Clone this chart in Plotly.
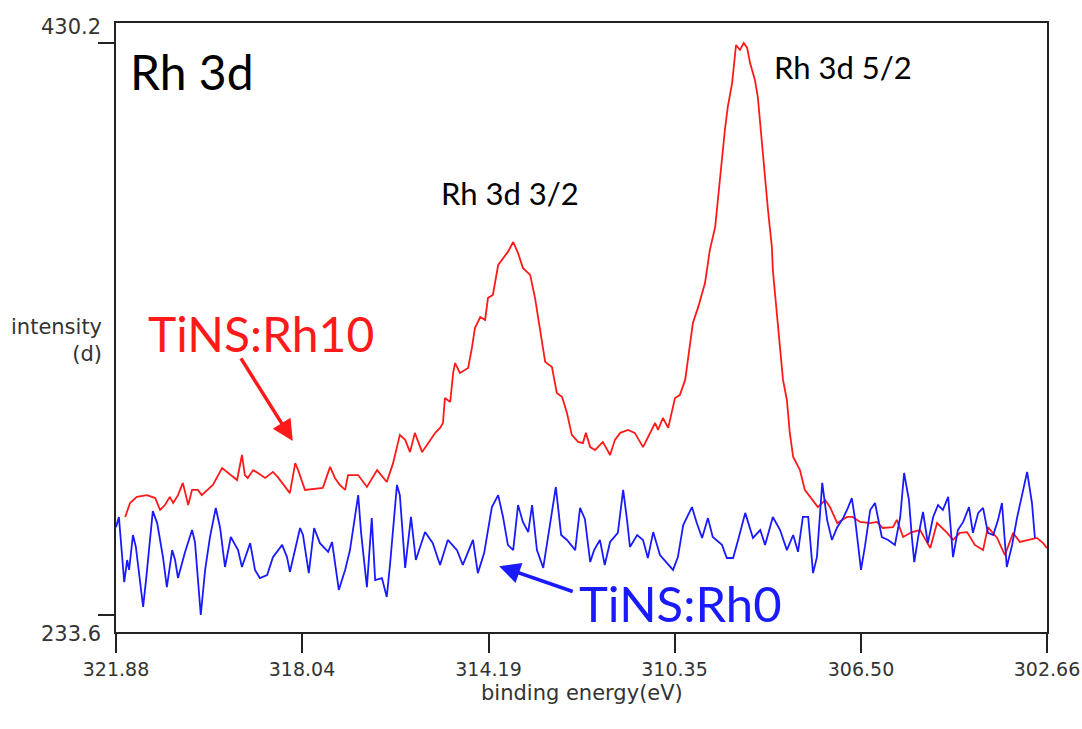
import plotly.graph_objects as go

# Rh 3d XPS spectra: binding energy (eV) vs intensity
rh10_energy = [
    321.69, 321.59, 321.45, 321.24, 321.07, 320.97, 320.87, 320.77, 320.70, 320.60,
    320.50, 320.39, 320.31, 320.19, 320.11, 319.98, 319.88, 319.69, 319.57, 319.38,
    319.28, 319.22, 319.16, 319.05, 318.95, 318.80, 318.64, 318.54, 318.29, 318.18,
    318.12, 317.98, 317.61, 317.46, 317.36, 317.26, 317.15, 317.09, 316.88, 316.70,
    316.49, 316.29, 316.16, 316.02, 315.91, 315.81, 315.71, 315.56, 315.46, 315.29,
    315.19, 315.13, 315.09, 314.98, 314.92, 314.88, 314.78, 314.61, 314.53, 314.47,
    314.36, 314.26, 314.20, 314.10, 313.99, 313.89, 313.79, 313.68, 313.58, 313.48,
    313.33, 313.23, 313.13, 313.02, 312.88, 312.78, 312.67, 312.57, 312.47, 312.34,
    312.24, 312.18, 312.09, 311.99, 311.83, 311.68, 311.58, 311.47, 311.31, 311.17,
    311.00, 310.86, 310.75, 310.69, 310.59, 310.48, 310.40, 310.34, 310.24, 310.13,
    309.97, 309.86, 309.72, 309.62, 309.51, 309.45, 309.37, 309.31, 309.25, 309.16,
    309.08, 309.00, 308.92, 308.85, 308.79, 308.69, 308.63, 308.54, 308.48, 308.42,
    308.34, 308.32, 308.23, 308.11, 308.03, 307.97, 307.90, 307.76, 307.66, 307.51,
    307.39, 307.24, 307.14, 306.99, 306.79, 306.67, 306.52, 306.31, 306.17, 306.05,
    305.84, 305.76, 305.63, 305.45, 305.28, 305.07, 304.93, 304.72, 304.60, 304.46,
    304.31, 304.15, 303.98, 303.88, 303.69, 303.53, 303.36, 303.22, 303.01, 302.87,
    302.74, 302.66,
]
rh10_intensity = [
    267.3, 272.1, 274.2, 274.8, 273.8, 269.7, 271.4, 274.2, 272.1, 274.8,
    279.0, 271.4, 276.6, 276.6, 274.8, 276.6, 278.3, 284.1, 282.4, 280.0,
    288.6, 281.7, 280.7, 283.4, 282.4, 280.7, 282.8, 281.0, 275.5, 285.8,
    283.4, 276.6, 277.3, 284.5, 280.7, 278.3, 276.6, 281.7, 281.7, 277.6,
    283.4, 279.3, 285.8, 295.5, 293.8, 289.6, 296.2, 289.6, 292.0, 296.2,
    297.9, 299.6, 308.2, 306.8, 316.8, 320.2, 316.8, 318.5, 325.7, 332.2,
    336.0, 335.0, 342.6, 343.6, 353.9, 356.3, 358.4, 361.8, 358.0, 352.9,
    350.5, 342.6, 331.6, 320.6, 318.8, 309.9, 308.5, 303.0, 295.5, 293.1,
    292.7, 296.2, 291.3, 290.3, 293.1, 288.6, 293.8, 296.2, 297.2, 296.2,
    291.3, 296.2, 299.6, 297.2, 301.3, 297.9, 303.4, 308.2, 309.2, 314.4,
    334.0, 339.5, 347.7, 359.1, 367.0, 377.3, 391.0, 400.3, 408.2, 416.5,
    429.5, 427.8, 430.2, 428.5, 423.3, 417.5, 411.6, 394.5, 384.1, 372.8,
    360.1, 352.2, 336.0, 314.4, 307.5, 296.2, 287.9, 283.4, 276.6, 273.1,
    270.7, 273.1, 270.7, 265.2, 267.3, 267.3, 265.6, 265.2, 265.6, 263.5,
    263.8, 266.3, 260.4, 262.1, 262.8, 256.6, 265.2, 261.8, 259.4, 261.8,
    262.1, 257.7, 255.9, 263.8, 260.1, 254.2, 261.8, 258.7, 259.4, 260.1,
    258.3, 256.6,
]

rh0_energy = [
    321.88, 321.82, 321.71, 321.65, 321.61, 321.53, 321.47, 321.32, 321.26, 321.20,
    321.12, 321.03, 320.91, 320.83, 320.72, 320.66, 320.60, 320.46, 320.31, 320.25,
    320.13, 320.04, 319.94, 319.82, 319.73, 319.63, 319.51, 319.36, 319.28, 319.11,
    319.01, 318.91, 318.76, 318.64, 318.45, 318.35, 318.29, 318.08, 318.02, 317.90,
    317.79, 317.67, 317.50, 317.42, 317.28, 317.15, 317.05, 316.88, 316.82, 316.70,
    316.60, 316.53, 316.39, 316.29, 316.22, 316.08, 316.02, 315.91, 315.79, 315.69,
    315.50, 315.34, 315.19, 315.03, 314.84, 314.72, 314.51, 314.41, 314.28, 314.12,
    313.99, 313.89, 313.79, 313.68, 313.58, 313.48, 313.37, 313.29, 313.19, 313.06,
    312.94, 312.80, 312.69, 312.57, 312.40, 312.30, 312.20, 312.09, 312.01, 311.89,
    311.79, 311.68, 311.52, 311.41, 311.33, 311.27, 311.12, 311.00, 310.90, 310.79,
    310.65, 310.50, 310.38, 310.28, 310.17, 309.99, 309.89, 309.78, 309.66, 309.56,
    309.37, 309.27, 309.14, 309.02, 308.89, 308.73, 308.58, 308.48, 308.32, 308.17,
    308.03, 307.90, 307.80, 307.70, 307.59, 307.49, 307.41, 307.30, 307.20, 307.10,
    306.99, 306.87, 306.77, 306.69, 306.62, 306.50, 306.42, 306.31, 306.21, 306.07,
    305.94, 305.80, 305.69, 305.61, 305.51, 305.45, 305.40, 305.32, 305.22, 305.12,
    305.01, 304.91, 304.81, 304.70, 304.60, 304.50, 304.39, 304.27, 304.19, 304.08,
    303.98, 303.88, 303.77, 303.67, 303.59, 303.49, 303.38, 303.28, 303.18, 303.07,
    302.97, 302.91,
]
rh0_intensity = [
    263.8, 267.3, 244.9, 252.5, 249.1, 261.1, 257.0, 236.4, 245.6, 257.0,
    269.3, 265.2, 253.5, 243.2, 255.9, 252.5, 246.3, 254.9, 262.8, 258.7,
    233.6, 249.1, 260.4, 270.4, 263.5, 250.1, 260.4, 255.9, 250.1, 258.3,
    249.1, 246.3, 247.3, 253.5, 257.7, 253.5, 248.4, 263.5, 261.1, 248.0,
    263.5, 258.3, 255.3, 258.7, 242.2, 249.1, 255.9, 274.8, 261.8, 243.2,
    266.9, 245.6, 246.3, 239.8, 251.5, 278.3, 274.8, 249.8, 267.3, 252.5,
    262.1, 258.3, 250.8, 259.4, 255.9, 250.8, 259.4, 248.0, 254.9, 270.7,
    274.8, 267.3, 257.7, 255.9, 271.4, 265.6, 262.1, 271.4, 255.9, 249.8,
    262.8, 277.6, 261.1, 259.4, 255.9, 270.4, 266.6, 251.8, 255.9, 259.4,
    250.8, 258.7, 261.8, 276.6, 266.3, 257.0, 261.1, 259.4, 253.2, 262.1,
    254.2, 251.5, 249.1, 253.5, 264.5, 270.7, 265.2, 260.1, 266.9, 260.4,
    257.7, 253.2, 253.2, 260.4, 268.7, 260.1, 262.8, 257.7, 267.3, 262.8,
    255.9, 261.1, 255.3, 267.3, 267.3, 248.0, 253.5, 279.0, 266.3, 259.4,
    263.8, 266.9, 270.4, 273.8, 266.3, 249.1, 257.0, 269.7, 272.1, 260.4,
    259.4, 257.7, 267.3, 282.4, 273.1, 260.4, 251.8, 260.4, 269.0, 258.3,
    267.3, 271.4, 269.7, 274.2, 253.5, 262.8, 265.6, 270.7, 261.8, 268.7,
    270.4, 261.8, 261.1, 266.3, 272.1, 250.1, 257.7, 266.9, 274.2, 282.8,
    272.1, 260.1,
]

x_tick_vals = [321.88, 318.04, 314.19, 310.35, 306.50, 302.66]
x_tick_text = ["321.88", "318.04", "314.19", "310.35", "306.50", "302.66"]
y_tick_vals = [233.6, 430.2]
y_tick_text = ["233.6", "430.2"]

RED = "#ff1a1a"
BLUE = "#1a1aff"
AXIS_FONT = dict(family="DejaVu Sans, sans-serif", size=21, color="#333333")
TICK_FONT = dict(family="DejaVu Sans, sans-serif", size=19, color="#333333")
LABEL_FAMILY = "Lato, Carlito, Calibri, sans-serif"

fig = go.Figure()
fig.add_trace(go.Scatter(x=rh10_energy, y=rh10_intensity, mode="lines",
                         line=dict(color=RED, width=1.8), name="TiNS:Rh10"))
fig.add_trace(go.Scatter(x=rh0_energy, y=rh0_intensity, mode="lines",
                         line=dict(color=BLUE, width=1.8), name="TiNS:Rh0"))

annotations = []
# y-axis end labels sit just outside the tick marks
annotations.append(dict(x=0, xref="paper", y=y_tick_vals[1], yref="y", text=y_tick_text[1],
                        showarrow=False, xanchor="right", yanchor="middle",
                        xshift=-13, yshift=16, font=AXIS_FONT))
annotations.append(dict(x=0, xref="paper", y=y_tick_vals[0], yref="y", text=y_tick_text[0],
                        showarrow=False, xanchor="right", yanchor="middle",
                        xshift=-13, yshift=-19, font=AXIS_FONT))
# y-axis title
annotations.append(dict(x=0, xref="paper", y=0.5, yref="paper",
                        text="intensity<br>(d)", align="right", showarrow=False,
                        xanchor="right", yanchor="middle", xshift=-12, yshift=-13,
                        font=AXIS_FONT))
# x-axis title
annotations.append(dict(x=0.5, xref="paper", y=0, yref="paper",
                        text="binding energy(eV)", showarrow=False,
                        xanchor="center", yanchor="middle", yshift=-61,
                        font=AXIS_FONT))
# panel label
annotations.append(dict(x=0, xref="paper", y=1, yref="paper", text="Rh 3d",
                        showarrow=False, xanchor="left", yanchor="middle",
                        xshift=12, yshift=-48,
                        font=dict(family=LABEL_FAMILY, size=48, color="black")))
# peak labels
annotations.append(dict(x=313.75, y=378.6, text="Rh 3d 3/2", showarrow=False,
                        font=dict(family=LABEL_FAMILY, size=31, color="black")))
annotations.append(dict(x=306.87, y=421.9, text="Rh 3d 5/2", showarrow=False,
                        font=dict(family=LABEL_FAMILY, size=31, color="black")))
# sample labels
annotations.append(dict(x=0, xref="paper", y=0, yref="paper", text="TiNS:Rh10",
                        showarrow=False, xanchor="center", yanchor="middle",
                        xshift=145, yshift=299,
                        font=dict(family=LABEL_FAMILY, size=48, color=RED)))
annotations.append(dict(x=0, xref="paper", y=0, yref="paper", text="TiNS:Rh0",
                        showarrow=False, xanchor="center", yanchor="middle",
                        xshift=564, yshift=29,
                        font=dict(family=LABEL_FAMILY, size=49, color=BLUE)))
# arrows pointing at each spectrum
annotations.append(dict(x=318.23, y=293.4, ax=319.32, ay=322.3, axref="x", ayref="y",
                        text="", showarrow=True, arrowhead=2, arrowsize=1.2,
                        arrowwidth=3.5, arrowcolor=RED))
annotations.append(dict(x=313.97, y=250.4, ax=312.42, ay=241.5, axref="x", ayref="y",
                        text="", showarrow=True, arrowhead=2, arrowsize=1.2,
                        arrowwidth=3.5, arrowcolor=BLUE))

fig.update_layout(
    width=1082, height=729,
    margin=dict(l=116, r=35, t=23, b=97, autoexpand=False),
    paper_bgcolor="white", plot_bgcolor="white",
    showlegend=False,
    annotations=annotations,
    xaxis=dict(range=[321.88, 302.66], tickvals=x_tick_vals, ticktext=x_tick_text,
               ticks="outside", ticklen=19, tickwidth=1.5, tickcolor="#222",
               ticklabeloverflow="allow", automargin=False,
               showline=True, linecolor="#222", linewidth=1.5, mirror=True,
               showgrid=False, zeroline=False, tickfont=TICK_FONT),
    yaxis=dict(range=[227.76, 437.07], tickvals=y_tick_vals, showticklabels=False,
               ticks="outside", ticklen=16, tickwidth=1.5, tickcolor="#222",
               automargin=False,
               showline=True, linecolor="#222", linewidth=1.5, mirror=True,
               showgrid=False, zeroline=False),
)

fig.write_html("out.html")
